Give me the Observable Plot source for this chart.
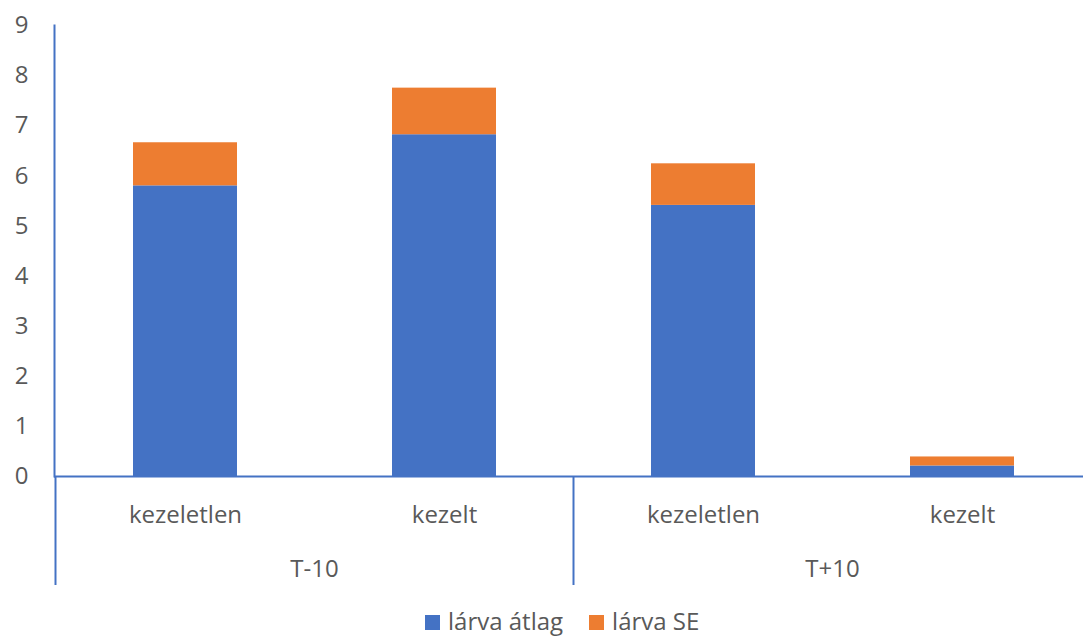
<!DOCTYPE html>
<html><head><meta charset="utf-8">
<script src="https://cdn.jsdelivr.net/npm/d3@7"></script>
<script src="https://cdn.jsdelivr.net/npm/@observablehq/plot@0.6"></script>
<style>
body{margin:0;background:#fff;width:1083px;height:641px;overflow:hidden;font-family:"Open Sans",sans-serif;}
#chart svg{display:block;overflow:hidden;}
#legend{display:flex;align-items:center;height:41px;padding-left:425px;font-size:24px;color:#595959;font-family:"Open Sans",sans-serif;}
.item{display:flex;align-items:center;margin-right:26px;}
.sw{width:15px;height:15px;margin-right:8px;margin-top:4px;}
</style></head><body><div id="chart"></div><div id="legend"></div>
<script>
const groups = ["T-10", "T-10", "T+10", "T+10"];
const categories = ["kezeletlen", "kezelt", "kezeletlen", "kezelt"];
const atlag = [5.80, 6.82, 5.41, 0.21];
const se = [0.86, 0.93, 0.83, 0.18];
const seriesNames = ["lárva átlag", "lárva SE"];
const colors = ["#4472C4", "#ED7D31"];
const yTicks = [0, 1, 2, 3, 4, 5, 6, 7, 8, 9];

const keys = categories.map((c, i) => groups[i] + "|" + c);
const data = keys.flatMap((k, i) => [
  {key: k, series: seriesNames[0], value: atlag[i]},
  {key: k, series: seriesNames[1], value: se[i]}
]);

const W = 1083, H = 600, mL = 54, mT = 25, mB = H - 476;
const axisColor = "#4472C4", textColor = "#595959";

const plot = Plot.plot({
  width: W, height: H,
  marginLeft: mL, marginRight: 0, marginTop: mT, marginBottom: mB,
  style: {fontFamily: "'Open Sans', sans-serif", fontSize: "24px", color: textColor, background: "white"},
  x: {domain: keys, range: [54.5, 1092], paddingInner: 0.6, paddingOuter: 0.3},
  y: {domain: [0, 9]},
  color: {domain: seriesNames, range: colors},
  marks: [
    Plot.barY(data, Plot.stackY({x: "key", y: "value", fill: "series"})),
    Plot.axisY({ticks: yTicks, tickSize: 0, tickPadding: 26, label: null}),
    Plot.axisX({tickSize: 0, tickPadding: 29, tickFormat: k => k.split("|")[1], label: null}),
    Plot.ruleY([0], {stroke: axisColor, strokeWidth: 2}),
    Plot.frame({anchor: "left", stroke: axisColor, strokeWidth: 2})
  ]
});

const svg = d3.select(plot);
const xs = plot.scale("x"), ys = plot.scale("y");
const gap = (xs.step - xs.bandwidth) / 2;
const y0 = ys.apply(0), yBottom = 585;
const groupNames = [...new Set(groups)];
groupNames.forEach((g) => {
  const ks = keys.filter((k, i) => groups[i] === g);
  const left = xs.apply(ks[0]) - gap;
  const center = d3.mean(ks, k => xs.apply(k) + xs.bandwidth / 2);
  svg.append("line")
    .attr("x1", left).attr("x2", left).attr("y1", y0).attr("y2", yBottom)
    .attr("stroke", axisColor).attr("stroke-width", 2);
  svg.append("text")
    .attr("x", center).attr("y", 577).attr("text-anchor", "middle")
    .attr("fill", textColor).attr("font-size", 24)
    .text(g);
});

document.getElementById("chart").appendChild(plot);

const legend = d3.select("#legend");
seriesNames.forEach((s, i) => {
  const it = legend.append("div").attr("class", "item");
  it.append("div").attr("class", "sw").style("background", colors[i]);
  it.append("span").text(s);
});
</script></body></html>
